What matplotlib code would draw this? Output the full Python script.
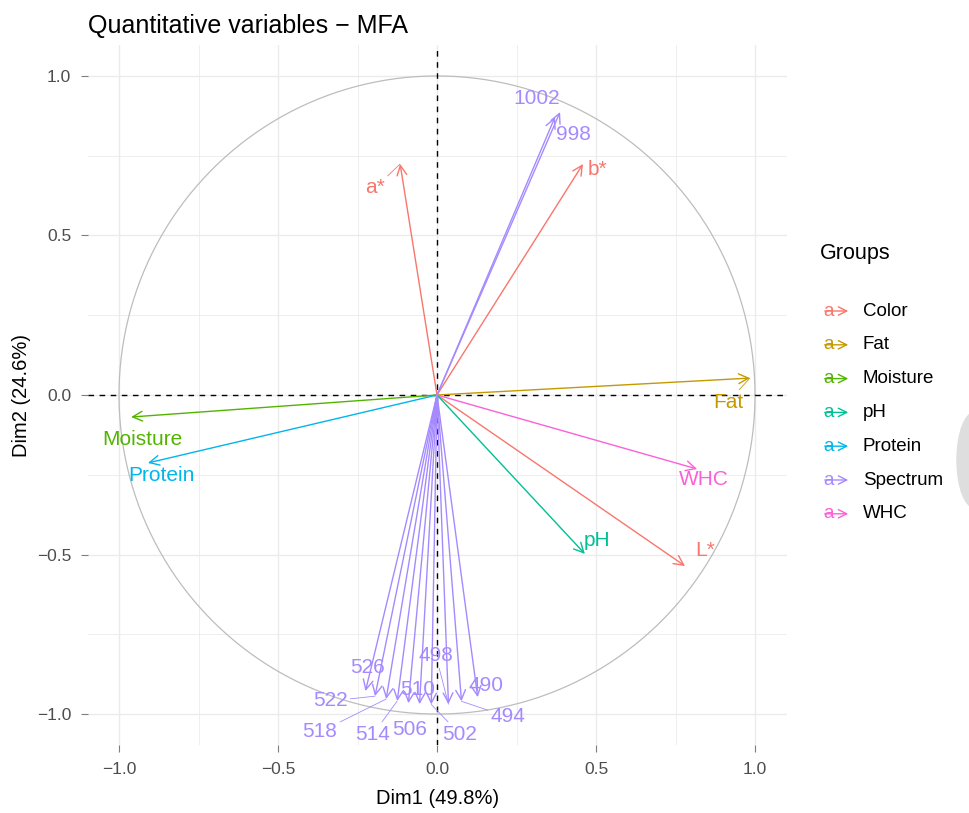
import numpy as np
import matplotlib
matplotlib.use("Agg")
import matplotlib.pyplot as plt
from matplotlib.patches import Ellipse, FancyArrowPatch

plt.rcParams['font.family'] = ['Liberation Sans', 'DejaVu Sans']

# variables: name, group, arrow tip (Dim1, Dim2), label position
var_names = ['a*', 'b*', 'L*', 'Fat', 'Moisture', 'pH', 'Protein', 'WHC',
             '1002', '998', '526', '522', '518', '514', '510', '506',
             '502', '498', '494', '490']
var_groups = ['Color', 'Color', 'Color', 'Fat', 'Moisture', 'pH', 'Protein', 'WHC',
              'Spectrum', 'Spectrum', 'Spectrum', 'Spectrum', 'Spectrum', 'Spectrum',
              'Spectrum', 'Spectrum', 'Spectrum', 'Spectrum', 'Spectrum', 'Spectrum']
dim1 = [-0.116, 0.459, 0.780, 0.984, -0.962, 0.465, -0.909, 0.818,
        0.387, 0.371, -0.225, -0.195, -0.160, -0.125, -0.090, -0.055,
        -0.018, 0.036, 0.077, 0.128]
dim2 = [0.724, 0.724, -0.536, 0.053, -0.069, -0.498, -0.213, -0.232,
        0.887, 0.871, -0.928, -0.944, -0.953, -0.959, -0.966, -0.969,
        -0.970, -0.969, -0.960, -0.947]
label_x = [-0.195, 0.506, 0.843, 0.915, -0.925, 0.503, -0.868, 0.840,
           0.314, 0.428, -0.217, -0.336, -0.368, -0.201, -0.060, -0.085,
           0.072, -0.003, 0.223, 0.154]
label_y = [0.649, 0.708, -0.486, -0.022, -0.141, -0.455, -0.251, -0.266,
           0.928, 0.815, -0.853, -0.959, -1.056, -1.063, -0.922, -1.047,
           -1.063, -0.818, -1.009, -0.909]

groups = ['Color', 'Fat', 'Moisture', 'pH', 'Protein', 'Spectrum', 'WHC']
group_colors = ['#F8766D', '#C49A00', '#53B400', '#00C094', '#00B6EB', '#A58AFF', '#FB61D7']
col = dict(zip(groups, group_colors))

W, H = 969, 813
fig = plt.figure(figsize=(W / 100, H / 100), dpi=100)
ax = fig.add_axes([88 / W, 68 / H, 699 / W, 700 / H])
ax.set_xlim(-1.0975, 1.1006)
ax.set_ylim(-1.097, 1.097)

# grid like theme_minimal
for v in np.arange(-1.0, 1.01, 0.25):
    major = abs(v * 2 - round(v * 2)) < 1e-9
    ax.axvline(v, color='#EBEBEB', lw=1.0 if major else 0.6, zorder=0)
    ax.axhline(v, color='#EBEBEB', lw=1.0 if major else 0.6, zorder=0)
for s in ax.spines.values():
    s.set_visible(False)
ax.set_xticks([-1.0, -0.5, 0.0, 0.5, 1.0])
ax.set_yticks([-1.0, -0.5, 0.0, 0.5, 1.0])
ax.tick_params(colors='#7F7F7F', labelcolor='#4D4D4D', labelsize=12.5,
               length=5, width=0.8, pad=7)

# correlation circle
t = np.linspace(0, 2 * np.pi, 400)
ax.plot(np.cos(t), np.sin(t), color='#BDBDBD', lw=0.9, zorder=1)
ax.axhline(0, color='black', lw=1.0, ls=(0, (4, 4)), zorder=2)
ax.axvline(0, color='black', lw=1.0, ls=(0, (4, 4)), zorder=2)

for name, g, x, y, lx, ly in zip(var_names, var_groups, dim1, dim2, label_x, label_y):
    c = col[g]
    ax.annotate('', xy=(x, y), xytext=(0, 0),
                arrowprops=dict(arrowstyle='->,head_length=0.7,head_width=0.35',
                                color=c, lw=1.0, shrinkA=0, shrinkB=0), zorder=3)
    if np.hypot(lx - x, ly - y) > 0.088:
        ax.annotate(name, xy=(x, y), xytext=(lx, ly), color=c, fontsize=15,
                    ha='center', va='center', zorder=4,
                    arrowprops=dict(arrowstyle='-', color=c, lw=0.6,
                                    shrinkA=0, shrinkB=0))
    else:
        ax.text(lx, ly, name, color=c, fontsize=15, ha='center', va='center', zorder=4)

ax.set_xlabel('Dim1 (49.8%)', fontsize=14.5, labelpad=9)
ax.set_ylabel('Dim2 (24.6%)', fontsize=14.5, labelpad=4)
ax.set_title('Quantitative variables \u2212 MFA', fontsize=18, loc='left', x=0.0, pad=9)


def fpt(px, py):
    return px / W, 1 - py / H


# legend
fig.text(*fpt(820, 254), 'Groups', fontsize=15.5, va='center', ha='left')
for i, g in enumerate(groups):
    yy = 311 + i * 33.8
    c = col[g]
    fig.text(*fpt(829, yy), 'a', color=c, fontsize=13.5, ha='center', va='center')
    arr = FancyArrowPatch(fpt(822, yy), fpt(851, yy), transform=fig.transFigure,
                          arrowstyle='->,head_length=0.6,head_width=0.3', color=c,
                          lw=1.0, mutation_scale=10)
    fig.patches.append(arr)
    fig.text(*fpt(863, yy), g, fontsize=13.5, ha='left', va='center')

# grey half-disc at the right edge of the screenshot
fig.patches.append(Ellipse(fpt(975, 460), 36 / W, 96 / H, transform=fig.transFigure,
                           color='#DEDEDE', zorder=0))

fig.savefig('out.png', dpi=100)
